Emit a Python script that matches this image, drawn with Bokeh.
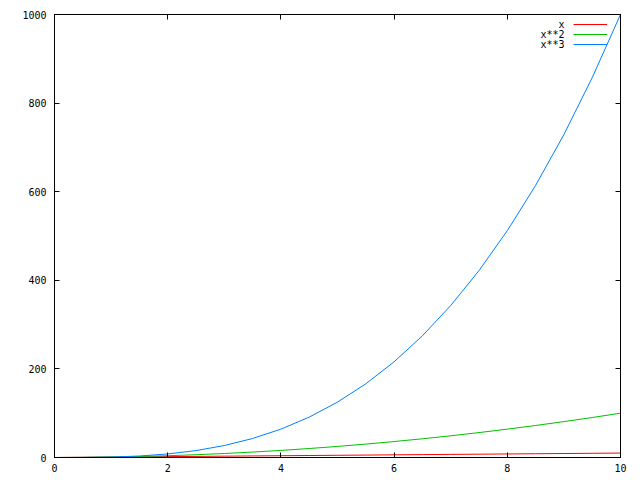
from bokeh.plotting import figure
from bokeh.models import (Range1d, FixedTicker, LinearAxis, Legend, LegendItem, Label,
                          CustomJSTickFormatter)
from bokeh.embed import file_html
from bokeh.resources import INLINE

# ---- data ----
xs = [0, 0.5, 1, 1.5, 2, 2.5, 3, 3.5, 4, 4.5, 5, 5.5, 6, 6.5, 7, 7.5, 8, 8.5, 9, 9.5, 10]
y_x = [0, 0.5, 1, 1.5, 2, 2.5, 3, 3.5, 4, 4.5, 5, 5.5, 6, 6.5, 7, 7.5, 8, 8.5, 9, 9.5, 10]
y_x2 = [0, 0.25, 1, 2.25, 4, 6.25, 9, 12.25, 16, 20.25, 25, 30.25, 36, 42.25, 49,
        56.25, 64, 72.25, 81, 90.25, 100]
y_x3 = [0, 0.125, 1, 3.375, 8, 15.625, 27, 42.875, 64, 91.125, 125, 166.375, 216,
        274.625, 343, 421.875, 512, 614.125, 729, 857.375, 1000]
series_names = ["x", "x**2", "x**3"]
series_colors = ["#ff0000", "#00c000", "#0080ff"]
x_ticks = [0, 2, 4, 6, 8, 10]
y_ticks = [0, 200, 400, 600, 800, 1000]

FONT = "DejaVu Sans Mono"
FS = "10px"

p = figure(width=640, height=480, output_backend="svg", toolbar_location=None,
           x_range=Range1d(0, 10), y_range=Range1d(0, 1000),
           x_axis_location=None, y_axis_location=None)
p.min_border_left = 54
p.min_border_right = 20
p.min_border_top = 14
p.min_border_bottom = 23
p.xgrid.visible = False
p.ygrid.visible = False
p.outline_line_color = "black"
p.outline_line_width = 1
p.background_fill_color = "white"
p.border_fill_color = "white"

def style_axis(ax, ticks, labels=True, standoff=6):
    ax.ticker = FixedTicker(ticks=ticks)
    ax.axis_line_color = "black"
    ax.major_tick_in = 5
    ax.major_tick_out = 0
    ax.major_tick_line_color = "black"
    ax.minor_tick_line_color = None
    ax.major_label_text_font = FONT
    ax.major_label_text_font_size = FS
    if labels:
        ax.major_label_text_color = "black"
        ax.major_label_standoff = standoff
    else:
        # mirrored ticks only, no labels
        ax.formatter = CustomJSTickFormatter(code="return ''")
        ax.major_label_text_color = None
        ax.major_label_standoff = 0

bx = LinearAxis(); style_axis(bx, x_ticks, True, 6); p.add_layout(bx, "below")
ly = LinearAxis(); style_axis(ly, y_ticks, True, 8); p.add_layout(ly, "left")
tx = LinearAxis(); style_axis(tx, x_ticks, False); p.add_layout(tx, "above")
ry = LinearAxis(); style_axis(ry, y_ticks, False); p.add_layout(ry, "right")

renderers = []
for ys, c in zip([y_x, y_x2, y_x3], series_colors):
    r = p.line(xs, ys, line_color=c, line_width=1)
    renderers.append(r)

# legend: samples via Legend, names drawn to their left (gnuplot style)
items = [LegendItem(label=" ", renderers=[r]) for r in renderers]
legend = Legend(items=items, location=(519, 408), glyph_width=34, glyph_height=10,
                label_height=10, label_width=0, label_standoff=0, padding=0,
                spacing=0, margin=0, border_line_color=None,
                background_fill_alpha=0, label_text_alpha=0,
                label_text_font_size="10px")
p.add_layout(legend, "center")

for i, name in enumerate(series_names):
    p.add_layout(Label(x=510, y=433 - 10 * i, x_units="screen", y_units="screen",
                       text=name, text_align="right", text_baseline="middle",
                       text_font=FONT, text_font_size=FS, text_color="black"))

open("out.html", "w").write(file_html(p, INLINE))
